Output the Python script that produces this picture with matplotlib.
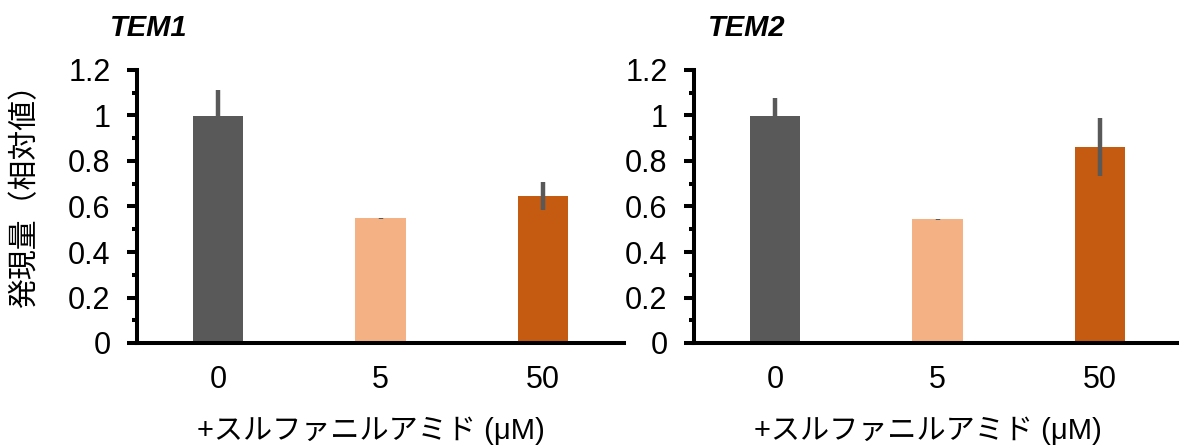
import matplotlib
matplotlib.use('Agg')
import matplotlib.pyplot as plt
from matplotlib.ticker import MultipleLocator, FuncFormatter

plt.rcParams['font.family'] = ['Liberation Sans', 'Noto Sans CJK JP', 'DejaVu Sans']

# data
doses = ['0', '5', '50']
tem1_vals = [1.0, 0.548, 0.646]
tem1_err = [0.11, 0.003, 0.06]
tem2_vals = [1.0, 0.543, 0.863]
tem2_err = [0.076, 0.004, 0.128]
bar_colors = ['#595959', '#F4B183', '#C55A11']

fig = plt.figure(figsize=(11.79, 4.46), dpi=100)
ax1 = fig.add_axes([137 / 1179, 103 / 446, 487 / 1179, 273 / 446])
ax2 = fig.add_axes([694 / 1179, 103 / 446, 487 / 1179, 273 / 446])

for ax, vals, err in [(ax1, tem1_vals, tem1_err), (ax2, tem2_vals, tem2_err)]:
    x = range(len(doses))
    ax.bar(x, vals, width=0.31, color=bar_colors, zorder=2)
    ax.errorbar(x, vals, yerr=err, fmt='none', ecolor='#595959',
                elinewidth=3.2, capsize=0, zorder=3)
    ax.set_xlim(-0.5, 2.5)
    ax.set_ylim(0, 1.2)
    ax.set_xticks(list(x))
    ax.set_xticklabels(doses)
    ax.yaxis.set_major_locator(MultipleLocator(0.2))
    ax.yaxis.set_minor_locator(MultipleLocator(0.1))
    ax.yaxis.set_major_formatter(FuncFormatter(lambda v, p: f'{v:g}'))
    for s in ['top', 'right']:
        ax.spines[s].set_visible(False)
    for s in ['left', 'bottom']:
        ax.spines[s].set_linewidth(2.9)
        ax.spines[s].set_color('black')
    ax.tick_params(axis='y', which='major', length=7, width=2.9,
                   labelsize=22, pad=12)
    ax.tick_params(axis='y', which='minor', length=3.5, width=2.9)
    ax.tick_params(axis='x', length=0, labelsize=22, pad=16)
    ax.set_xlabel('+スルファニルアミド (μM)', fontsize=21)
    ax.xaxis.set_label_coords(0.48, -0.27)

fig.text(110 / 1179, 1 - 28 / 446, 'TEM1', fontsize=21, fontweight='bold',
         fontstyle='italic', va='center', ha='left')
fig.text(708 / 1179, 1 - 28 / 446, 'TEM2', fontsize=21, fontweight='bold',
         fontstyle='italic', va='center', ha='left')
fig.text(25 / 1179, 1 - 189 / 446, '発現量（相対値）', fontsize=21.5,
         rotation=90, va='center', ha='center')

fig.savefig('out.png', dpi=100)
